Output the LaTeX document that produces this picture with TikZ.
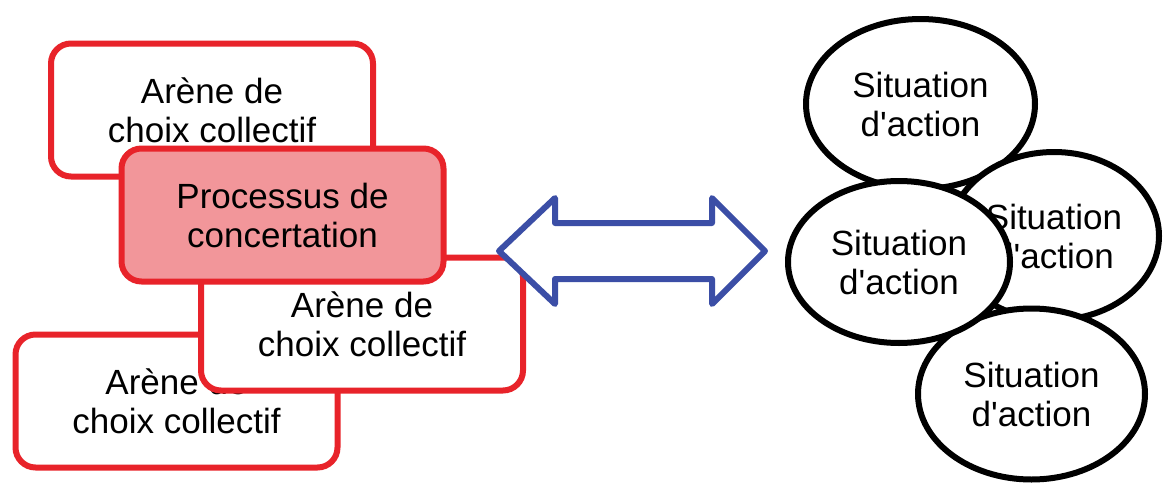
\documentclass[tikz,border=0pt]{standalone}
\usepackage{fontspec}
\setmainfont{Liberation Sans}
\usetikzlibrary{shapes.geometric}
\definecolor{boxred}{HTML}{E8232A}
\definecolor{boxpink}{HTML}{F2969A}
\definecolor{arrowblue}{HTML}{3B4EA6}
\newcommand{\sitlabel}{Situation\\d\textquotesingle action}
\begin{document}
\begin{tikzpicture}[x=1pt,y=-1pt,
  arena/.style={draw=boxred, line width=6pt, fill=white, rounded corners=20pt,
    minimum width=322pt, minimum height=133pt, align=center, inner sep=0pt,
    font=\fontsize{35}{39}\selectfont},
  concert/.style={arena, fill=boxpink},
  sit/.style={ellipse, draw=black, line width=6pt, fill=white, align=center,
    inner sep=0pt, font=\fontsize{35}{39}\selectfont},
  bigarrow/.style={draw=arrowblue, line width=6pt, fill=white, line join=round}]
\useasboundingbox (0,0) rectangle (1163,485);
% arenas
\node[arena] (a2) at (176.5,401) {Arène de\\choix collectif};
\node[arena] (a3) at (362,324) {Arène de\\choix collectif};
\node[arena] (a1) at (212,110) {Arène de\\choix collectif};
\node[concert] (pc) at (282.5,215) {Processus de\\concertation};
% double arrow
\draw[bigarrow] (499,251) -- (555,198) -- (555,223) -- (712,223) -- (712,198)
  -- (765,251) -- (712,304) -- (712,279) -- (555,279) -- (555,304) -- cycle;
% situations
\node[sit, minimum width=229pt, minimum height=170pt] (s1) at (920.5,104) {\sitlabel};
\node[sit, minimum width=210pt, minimum height=168pt] (s2) at (1054,236) {\sitlabel};
\node[sit, minimum width=227pt, minimum height=171pt] (s3) at (1031.5,394) {\sitlabel};
\node[sit, minimum width=222pt, minimum height=162pt] (s4) at (899,262) {\sitlabel};
\end{tikzpicture}
\end{document}
